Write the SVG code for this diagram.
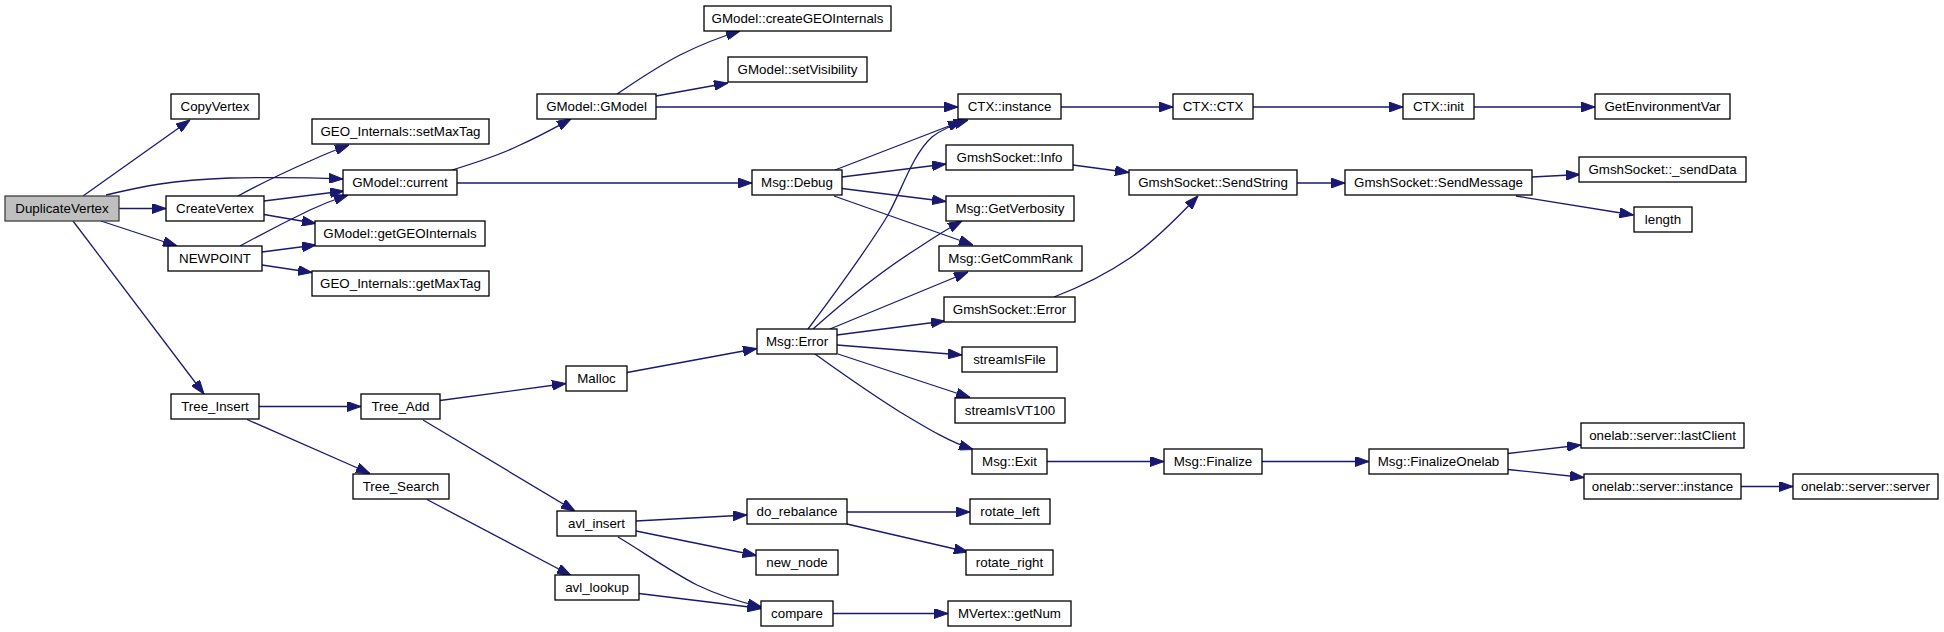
<svg xmlns="http://www.w3.org/2000/svg" width="1944" height="632" viewBox="0 0 1944 632">
<style>
.n rect{fill:#ffffff;stroke:#000000;stroke-width:1.3}
.n.root rect{fill:#bfbfbf;stroke:#404040}
.n text{font-family:"Liberation Sans",Arial,sans-serif;font-size:13.33px;text-anchor:middle;fill:#000000}
.e path{fill:none;stroke:#191970;stroke-width:1.3;marker-end:url(#ah)}
</style>
<defs>
<marker id="ah" markerUnits="userSpaceOnUse" markerWidth="14" markerHeight="10" viewBox="0 0 13.3 9.4" refX="13.3" refY="4.7" orient="auto">
<path d="M0,0 L13.3,4.7 L0,9.4 Z" fill="#191970" stroke="#191970" stroke-width="1"/>
</marker>
</defs>
<rect x="0" y="0" width="1944" height="632" fill="#ffffff"/>
<g id="edges" class="e">
<path d="M83,196 L190,120"/>
<path d="M106,195 C140,187 170,180 230,178 C280,177 320,178 343,179"/>
<path d="M119,208.5 L166,208.5"/>
<path d="M101,221 L177,246"/>
<path d="M73,221 L204,394"/>
<path d="M238,196 C260,184 285,172 310,161 C325,154 338,149 349,145"/>
<path d="M264,201 L344,191"/>
<path d="M264,214.5 L316,223.5"/>
<path d="M240,246 C262,234 285,222 310,210 C323,204 336,199 348,195"/>
<path d="M262,252 L316,245"/>
<path d="M262,265 L312,272.5"/>
<path d="M452,170 C475,163 500,155 520,145 C540,136 556,127 571,119"/>
<path d="M457,183 L752,183"/>
<path d="M617,94 C635,82 655,68 680,55 C700,45 720,37 740,31"/>
<path d="M656,96 L728,83"/>
<path d="M656,107 L958,107"/>
<path d="M835,170 L962,121"/>
<path d="M842,177 L946,164"/>
<path d="M842,188.5 L946,201.5"/>
<path d="M834,196 L973,245"/>
<path d="M808,329 C830,300 870,245 888,215 C902,190 912,155 932,137 C942,129 955,124 968,120"/>
<path d="M813,329 C840,305 880,272 918,248 C933,238 947,229 962,221"/>
<path d="M830,329 L968,272"/>
<path d="M837,335 L945,321"/>
<path d="M837,345 L962,355"/>
<path d="M838,354 L970,397.5"/>
<path d="M815,354 C840,372 870,393 900,412 C930,430 950,442 973,449.5"/>
<path d="M627,372.5 L757,348.5"/>
<path d="M259,406.5 L361,406.5"/>
<path d="M247,419.5 L370,473.5"/>
<path d="M440,400.5 L566,383.5"/>
<path d="M423,420 L575,511"/>
<path d="M427,499.5 L571,575.5"/>
<path d="M636,521 L747,515"/>
<path d="M636,531 L756.5,555.5"/>
<path d="M618,537 C640,550 670,571 697,585 C720,596 740,602 761.5,607"/>
<path d="M639,593.5 L761.5,608.5"/>
<path d="M847,512 L970,512"/>
<path d="M847,524 L968,552"/>
<path d="M833,613.5 L948,613.5"/>
<path d="M1061,107 L1173,107"/>
<path d="M1253,107 L1403,107"/>
<path d="M1474,107 L1595,107"/>
<path d="M1073,165 L1129,172.5"/>
<path d="M1054,297 C1080,287 1105,275 1130,258 C1155,241 1180,215 1198,196"/>
<path d="M1297,183 L1345,183"/>
<path d="M1532,177 L1580,174.5"/>
<path d="M1516,196 L1633.5,215"/>
<path d="M1047,461.5 L1164,461.5"/>
<path d="M1262,461.5 L1369,461.5"/>
<path d="M1508,453.5 L1581,445"/>
<path d="M1508,469.5 L1584,477.5"/>
<path d="M1741,486.5 L1793,486.5"/>
</g>
<g id="n_DuplicateVertex" class="n root"><rect x="5" y="196" width="114" height="25"/><text x="62" y="213">DuplicateVertex</text></g>
<g id="n_CopyVertex" class="n"><rect x="171" y="94" width="88" height="25"/><text x="215" y="111">CopyVertex</text></g>
<g id="n_CreateVertex" class="n"><rect x="166" y="196" width="98" height="25"/><text x="215" y="213">CreateVertex</text></g>
<g id="n_NEWPOINT" class="n"><rect x="168" y="246" width="94" height="25"/><text x="215" y="263">NEWPOINT</text></g>
<g id="n_Tree_Insert" class="n"><rect x="171" y="394" width="88" height="25"/><text x="215" y="411">Tree_Insert</text></g>
<g id="n_setMaxTag" class="n"><rect x="312" y="119" width="177" height="25"/><text x="400.5" y="136">GEO_Internals::setMaxTag</text></g>
<g id="n_GModel_current" class="n"><rect x="343" y="170" width="114" height="25"/><text x="400" y="187">GModel::current</text></g>
<g id="n_getGEOInternals" class="n"><rect x="315" y="221" width="170" height="25"/><text x="400" y="238">GModel::getGEOInternals</text></g>
<g id="n_getMaxTag" class="n"><rect x="312" y="271" width="177" height="25"/><text x="400.5" y="288">GEO_Internals::getMaxTag</text></g>
<g id="n_Tree_Add" class="n"><rect x="361" y="394" width="79" height="25"/><text x="400.5" y="411">Tree_Add</text></g>
<g id="n_Tree_Search" class="n"><rect x="353" y="474" width="96" height="25"/><text x="401" y="491">Tree_Search</text></g>
<g id="n_GModel_GModel" class="n"><rect x="537" y="94" width="119" height="25"/><text x="596.5" y="111">GModel::GModel</text></g>
<g id="n_Malloc" class="n"><rect x="566" y="366" width="61" height="25"/><text x="596.5" y="383">Malloc</text></g>
<g id="n_avl_insert" class="n"><rect x="557" y="511" width="79" height="25"/><text x="596.5" y="528">avl_insert</text></g>
<g id="n_avl_lookup" class="n"><rect x="555" y="575" width="84" height="25"/><text x="597" y="592">avl_lookup</text></g>
<g id="n_createGEOInternals" class="n"><rect x="704" y="6" width="187" height="25"/><text x="797.5" y="23">GModel::createGEOInternals</text></g>
<g id="n_setVisibility" class="n"><rect x="728" y="57" width="139" height="25"/><text x="797.5" y="74">GModel::setVisibility</text></g>
<g id="n_Msg_Debug" class="n"><rect x="752" y="170" width="90" height="25"/><text x="797" y="187">Msg::Debug</text></g>
<g id="n_Msg_Error" class="n"><rect x="757" y="329" width="80" height="25"/><text x="797" y="346">Msg::Error</text></g>
<g id="n_do_rebalance" class="n"><rect x="747" y="499" width="100" height="25"/><text x="797" y="516">do_rebalance</text></g>
<g id="n_new_node" class="n"><rect x="756" y="550" width="82" height="25"/><text x="797" y="567">new_node</text></g>
<g id="n_compare" class="n"><rect x="761" y="601" width="72" height="25"/><text x="797" y="618">compare</text></g>
<g id="n_CTX_instance" class="n"><rect x="958" y="94" width="103" height="25"/><text x="1009.5" y="111">CTX::instance</text></g>
<g id="n_GmshSocket_Info" class="n"><rect x="946" y="145" width="127" height="25"/><text x="1009.5" y="162">GmshSocket::Info</text></g>
<g id="n_GetVerbosity" class="n"><rect x="946" y="196" width="128" height="25"/><text x="1010" y="213">Msg::GetVerbosity</text></g>
<g id="n_GetCommRank" class="n"><rect x="939" y="246" width="143" height="25"/><text x="1010.5" y="263">Msg::GetCommRank</text></g>
<g id="n_GmshSocket_Error" class="n"><rect x="944" y="297" width="131" height="25"/><text x="1009.5" y="314">GmshSocket::Error</text></g>
<g id="n_streamIsFile" class="n"><rect x="962" y="347" width="95" height="25"/><text x="1009.5" y="364">streamIsFile</text></g>
<g id="n_streamIsVT100" class="n"><rect x="955" y="398" width="110" height="25"/><text x="1010" y="415">streamIsVT100</text></g>
<g id="n_Msg_Exit" class="n"><rect x="972" y="449" width="75" height="25"/><text x="1009.5" y="466">Msg::Exit</text></g>
<g id="n_rotate_left" class="n"><rect x="970" y="499" width="80" height="25"/><text x="1010" y="516">rotate_left</text></g>
<g id="n_rotate_right" class="n"><rect x="966" y="550" width="87" height="25"/><text x="1009.5" y="567">rotate_right</text></g>
<g id="n_getNum" class="n"><rect x="948" y="601" width="123" height="25"/><text x="1009.5" y="618">MVertex::getNum</text></g>
<g id="n_CTX_CTX" class="n"><rect x="1173" y="94" width="80" height="25"/><text x="1213" y="111">CTX::CTX</text></g>
<g id="n_SendString" class="n"><rect x="1129" y="170" width="168" height="25"/><text x="1213" y="187">GmshSocket::SendString</text></g>
<g id="n_Msg_Finalize" class="n"><rect x="1164" y="449" width="98" height="25"/><text x="1213" y="466">Msg::Finalize</text></g>
<g id="n_CTX_init" class="n"><rect x="1403" y="94" width="71" height="25"/><text x="1438.5" y="111">CTX::init</text></g>
<g id="n_SendMessage" class="n"><rect x="1345" y="170" width="187" height="25"/><text x="1438.5" y="187">GmshSocket::SendMessage</text></g>
<g id="n_FinalizeOnelab" class="n"><rect x="1369" y="449" width="139" height="25"/><text x="1438.5" y="466">Msg::FinalizeOnelab</text></g>
<g id="n_GetEnvironmentVar" class="n"><rect x="1595" y="94" width="135" height="25"/><text x="1662.5" y="111">GetEnvironmentVar</text></g>
<g id="n_sendData" class="n"><rect x="1579" y="157" width="167" height="25"/><text x="1662.5" y="174">GmshSocket::_sendData</text></g>
<g id="n_length" class="n"><rect x="1634" y="207" width="58" height="25"/><text x="1663" y="224">length</text></g>
<g id="n_lastClient" class="n"><rect x="1581" y="423" width="163" height="25"/><text x="1662.5" y="440">onelab::server::lastClient</text></g>
<g id="n_onelab_instance" class="n"><rect x="1584" y="474" width="157" height="25"/><text x="1662.5" y="491">onelab::server::instance</text></g>
<g id="n_onelab_server" class="n"><rect x="1793" y="474" width="145" height="25"/><text x="1865.5" y="491">onelab::server::server</text></g>
</svg>
